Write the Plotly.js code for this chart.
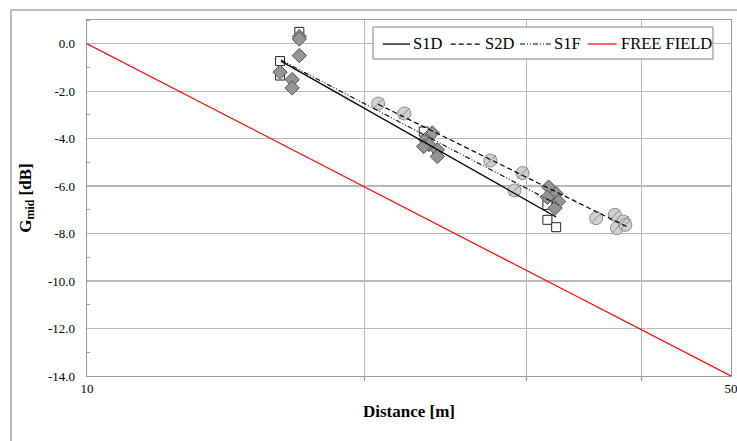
<!DOCTYPE html>
<html><head><meta charset="utf-8">
<script src="https://cdn.plot.ly/plotly-3.0.1.min.js"></script>
<style>html,body{margin:0;padding:0;background:#fff}#chart{width:737px;height:441px}</style>
</head><body><div id="chart"></div>
<script>
// Measured points (distance [m], G_mid [dB])
const s1dDist = [16.2, 16.2, 17.0, 23.2, 23.3, 24.0, 31.6, 31.6, 32.3];
const s1dG    = [-0.73, -1.34, 0.5, -3.7, -4.3, -4.6, -6.8, -7.42, -7.73];

const s1fDist = [16.2, 16.7, 16.7, 17.0, 17.0, 17.0, 23.7, 23.3, 23.5, 23.2, 24.0, 24.0, 31.7, 32.3, 31.6, 32.5, 32.2];
const s1fG    = [-1.2, -1.51, -1.86, 0.3, 0.2, -0.5, -3.76, -4.04, -4.25, -4.33, -4.47, -4.75, -6.04, -6.32, -6.47, -6.65, -6.93];

const s2dDist = [20.7, 22.1, 27.4, 29.7, 29.1, 35.7, 37.4, 38.2, 37.6, 38.4];
const s2dG    = [-2.52, -2.94, -4.92, -5.45, -6.18, -7.35, -7.21, -7.49, -7.77, -7.63];

// Regression lines (end points)
const s1dFitX = [16.24, 32.3];  const s1dFitY = [-0.73, -7.3];
const s2dFitX = [20.7, 38.5];   const s2dFitY = [-2.55, -7.7];
const s1fFitX = [16.24, 32.5];  const s1fFitY = [-0.69, -6.8];
const freeX   = [10, 50];       const freeY   = [0, -14];

const seriesNames = ['S1D', 'S2D', 'S1F', 'FREE FIELD'];

const xTickVals = [10, 50];
const xTickText = ['10', '50'];
const xGridVals = [20, 30, 40];
const yTickVals = [0, -2, -4, -6, -8, -10, -12, -14];
const yTickText = ['0.0', '-2.0', '-4.0', '-6.0', '-8.0', '-10.0', '-12.0', '-14.0'];

const serif = '"Liberation Serif", "Times New Roman", Times, serif';

const lineStyles = [
  {color: '#000', width: 1.3},
  {color: '#000', width: 1.2, dash: '5px,3px'},
  {color: '#000', width: 1.1, dash: '5px,2px,1px,2px,1px,2px'},
  {color: '#ff0000', width: 1.2}
];

const traces = [
  {x: s1dDist, y: s1dG, mode: 'markers', type: 'scatter', showlegend: false, hoverinfo: 'skip',
   marker: {symbol: 'square', size: 9, color: '#ffffff', line: {color: '#222', width: 1}}},
  {x: s1fDist, y: s1fG, mode: 'markers', type: 'scatter', showlegend: false, hoverinfo: 'skip',
   marker: {symbol: 'diamond', size: 11, color: '#959595', line: {color: '#505050', width: 1}}},
  {x: s2dDist, y: s2dG, mode: 'markers', type: 'scatter', showlegend: false, hoverinfo: 'skip',
   marker: {symbol: 'circle', size: 13, color: '#d0d0d0', line: {color: '#8a8a8a', width: 1}}},
  {x: s2dDist, y: s2dG, mode: 'markers', type: 'scatter', showlegend: false, hoverinfo: 'skip',
   marker: {symbol: 'line-ne', size: 11, color: '#888', line: {color: '#8a8a8a', width: 1}}},
  {x: s1dFitX, y: s1dFitY, mode: 'lines', type: 'scatter', name: seriesNames[0], showlegend: false, line: lineStyles[0]},
  {x: s2dFitX, y: s2dFitY, mode: 'lines', type: 'scatter', name: seriesNames[1], showlegend: false, line: lineStyles[1]},
  {x: s1fFitX, y: s1fFitY, mode: 'lines', type: 'scatter', name: seriesNames[2], showlegend: false, line: lineStyles[2]},
  {x: freeX, y: freeY, mode: 'lines', type: 'scatter', name: seriesNames[3], showlegend: false, line: lineStyles[3]}
];

// Legend drawn as box + sample lines + texts (paper coordinates)
const legLineX = [[0.4592, 0.5016], [0.5648, 0.6129], [0.6724, 0.7200], [0.7775, 0.8225]];
const legTextX = [0.5042, 0.6165, 0.7236, 0.8276];
const legY = 0.9325;

const shapes = [
  {type: 'rect', xref: 'paper', yref: 'paper', x0: -0.118, x1: 1.1, y0: -0.3, y1: 1.028,
   line: {color: '#a8a8a8', width: 1.5}, fillcolor: 'rgba(0,0,0,0)', layer: 'below'},
  {type: 'rect', xref: 'paper', yref: 'paper', x0: 0.4441, x1: 0.9720, y0: 0.8904, y1: 0.9803,
   line: {color: '#808080', width: 1}, fillcolor: '#ffffff', layer: 'above'}
];
const annotations = [];
seriesNames.forEach((nm, i) => {
  shapes.push({type: 'line', xref: 'paper', yref: 'paper', x0: legLineX[i][0], x1: legLineX[i][1],
               y0: legY, y1: legY, line: lineStyles[i], layer: 'above'});
  annotations.push({xref: 'paper', yref: 'paper', x: legTextX[i], y: legY + 0.002, xanchor: 'left', yanchor: 'middle',
                    text: nm, showarrow: false, font: {family: serif, size: 16.5, color: '#000'}, borderpad: 0});
});

const layout = {
  width: 737, height: 441,
  margin: {l: 87, r: 6, t: 20, b: 65, autoexpand: false},
  paper_bgcolor: '#ffffff', plot_bgcolor: '#ffffff',
  font: {family: serif, size: 13, color: '#000'},
  showlegend: false,
  xaxis: {
    type: 'log', range: [1, Math.log10(50)], automargin: false,
    tickmode: 'array', tickvals: xTickVals, ticktext: xTickText,
    ticklabeloverflow: 'allow',
    showgrid: false,
    minor: {tickmode: 'array', tickvals: xGridVals, showgrid: true, gridcolor: '#b8b8b8', gridwidth: 1.3,
            ticks: 'outside', ticklen: 4, tickcolor: '#999'},
    showline: true, linecolor: '#999', linewidth: 1.3, mirror: true,
    ticks: '',
    zeroline: false,
    tickfont: {family: serif, size: 13},
    title: {text: '<b>Distance [m]</b>', font: {family: serif, size: 17}, standoff: 10}
  },
  yaxis: {
    range: [-14, 1], automargin: false,
    tickmode: 'array', tickvals: yTickVals, ticktext: yTickText,
    showgrid: true, gridcolor: '#b8b8b8', gridwidth: 1.3,
    showline: true, linecolor: '#999', linewidth: 1.3, mirror: true,
    ticks: '', ticklabelstandoff: 8,
    minor: {tickmode: 'array', tickvals: [1, -1, -3, -5, -7, -9, -11, -13], ticks: 'inside', ticklen: 3, tickcolor: '#999', showgrid: false},
    zeroline: false,
    tickfont: {family: serif, size: 13},
    title: {text: '<b>G<sub>mid</sub> [dB]</b>', font: {family: serif, size: 17}, standoff: 12}
  },
  shapes: shapes,
  annotations: annotations
};

Plotly.newPlot('chart', traces, layout, {staticPlot: true, displayModeBar: false});
</script>
</body></html>
